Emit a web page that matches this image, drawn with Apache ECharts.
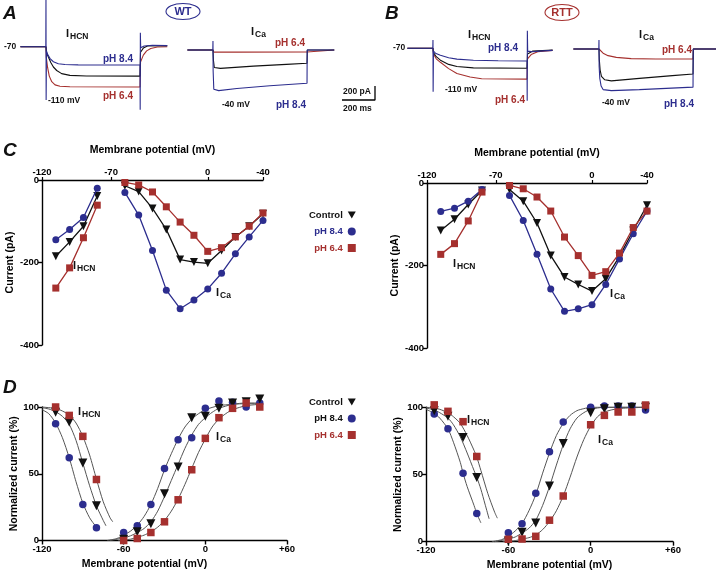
<!DOCTYPE html>
<html><head><meta charset="utf-8">
<script src="https://cdn.jsdelivr.net/npm/echarts@6.0.0/dist/echarts.min.js"></script>
<style>html,body{margin:0;padding:0;background:#fff}#c{width:716px;height:572px}</style>
</head><body><div id="c"></div>
<script>
// ---------------- DATA ----------------
// Panel C / D voltages (mV)
const hcnV = [-110, -100, -90, -80];
const caV = [-60, -50, -40, -30, -20, -10, 0, 10, 20, 30, 40];
const rttNormHcnV = [-114, -104, -93, -83];
const cTickLabels = ['-120', '-70', '0', '-40'];
const cTickValues = [-120, -70, 0, 40];

// Panel C: current (pA) WT
const wtHcnCtl = [-185, -150, -112, -39];
const wtHcn84 = [-145, -120, -91, -20];
const wtHcn64 = [-262, -213, -140, -61];
const wtCaCtl = [-14, -28, -69, -120, -193, -199, -202, -171, -138, -112, -82];
const wtCa84 = [-30, -85, -171, -267, -312, -291, -264, -226, -179, -138, -98];
const wtCa64 = [-6, -12, -29, -65, -102, -134, -173, -164, -138, -112, -80];
// Panel C: current (pA) RTT
const rttHcnCtl = [-115, -88, -52, -18];
const rttHcn84 = [-69, -61, -44, -16];
const rttHcn64 = [-173, -147, -92, -22];
const rttCaCtl = [-16, -44, -97, -176, -228, -246, -262, -232, -178, -115, -54];
const rttCa84 = [-30, -91, -173, -257, -311, -305, -295, -246, -184, -123, -68];
const rttCa64 = [-6, -14, -34, -68, -131, -176, -224, -215, -170, -108, -68];

// Panel D: normalized current (%) WT
const wtNHcnCtl = [96, 88.7, 58, 26];
const wtNHcn84 = [87.5, 62, 27, 9.5];
const wtNHcn64 = [100, 93.7, 78, 45.7];
const wtNCaCtl = [1, 6.5, 12.5, 35, 55, 92, 93, 99, 103, 104, 106];
const wtNCa84 = [6, 11, 27, 54, 75.5, 77, 99, 104.5, 103.5, 100, 103];
const wtNCa64 = [0, 1.5, 6, 14, 30.5, 53, 76.5, 92, 99, 103, 100];
// Panel D: normalized current (%) RTT
const rttNHcnCtl = [97.5, 93.3, 77.6, 47.8];
const rttNHcn84 = [95, 84, 51, 21];
const rttNHcn64 = [101.8, 97, 89.3, 63.4];
const rttNCaCtl = [0.5, 7, 14, 41.5, 73, null, 96, 99, 100, 100, 100];
const rttNCa84 = [6.7, 13.4, 36, 67, 89, null, 100, 101, 101, 101, 98];
const rttNCa64 = [1.8, 2, 4, 16, 34, null, 87, 94, 96.5, 96.5, 101.7];

// Panel D fitted curves ([mV, %])
const fitWtHcnCtl = [[-120,99.5],[-115,98.5],[-110,96.5],[-105,93],[-100,87],[-95,75],[-90,58],[-85,41],[-80,26],[-75,15],[-73,11]];
const fitWtHcn84 = [[-120,98],[-115,95],[-110,88],[-105,77],[-100,62],[-95,44],[-90,28],[-85,17],[-80,10],[-78,8]];
const fitWtHcn64 = [[-120,100],[-115,99.5],[-110,99],[-105,97],[-100,94],[-95,88],[-90,78],[-85,64],[-80,46],[-75,29],[-70,17],[-68,14]];
const fitWtCaCtl = [[-70,0],[-60,2],[-55,3.5],[-50,6],[-45,9],[-40,14],[-35,22],[-30,33],[-25,45],[-20,57],[-15,69],[-10,79],[-5,87],[0,92],[5,96],[10,99],[20,102],[30,103],[40,103]];
const fitWtCa84 = [[-72,0],[-65,1.5],[-60,4],[-55,7],[-50,11.5],[-45,18],[-40,27],[-35,39],[-30,53],[-25,65],[-20,76],[-15,85],[-10,91],[-5,95],[0,98],[10,101],[20,102],[30,102.5],[40,102.5]];
const fitWtCa64 = [[-64,0],[-55,1],[-50,2.5],[-45,4],[-40,6.5],[-35,10],[-30,15],[-25,22],[-20,31],[-15,42],[-10,54],[-5,66],[0,76],[5,85],[10,91],[15,95],[20,98],[30,101],[40,102]];
const fitRttHcnCtl = [[-120,99.5],[-114,98],[-110,96],[-104,92],[-100,87],[-95,78],[-90,66],[-85,53],[-83,48],[-80,39],[-77,28],[-74,17]];
const fitRttHcn84 = [[-120,98.5],[-114,95.5],[-110,92],[-104,84],[-100,74],[-95,59],[-93,51],[-90,41],[-85,27],[-83,21],[-80,14]];
const fitRttHcn64 = [[-120,100],[-114,99.5],[-110,98.5],[-104,96],[-100,93],[-95,88],[-90,79],[-85,68],[-83,63],[-80,53],[-75,36],[-70,22],[-68,17.5]];
const fitRttCaCtl = [[-70,0],[-60,2],[-55,3.5],[-50,6.5],[-45,10],[-40,16],[-35,27],[-30,41],[-25,57],[-20,72],[-15,84],[-10,92],[-5,96],[0,98.5],[10,100],[40,100]];
const fitRttCa84 = [[-72,0],[-65,1.5],[-60,4],[-55,8],[-50,13.5],[-45,23],[-40,35],[-35,51],[-30,66],[-25,79],[-20,88],[-15,94],[-10,97.5],[-5,99],[0,100],[10,100],[40,100]];
const fitRttCa64 = [[-64,0],[-55,0.8],[-50,2],[-45,3],[-40,5],[-35,9],[-30,15],[-25,23],[-20,34],[-15,48],[-10,63],[-5,76],[0,86],[5,93],[10,96.5],[20,99],[40,100]];

// Panels A/B: example current traces ([ms, pA] relative to holding current)
const trWtHcnCtl = [[0,0],[155,0],[158,-80],[170,-150],[185,-230],[200,-290],[220,-340],[250,-385],[300,-410],[400,-418],[725,-420],[728,-80],[745,-20],[770,10],[890,15]];
const trWtHcn84 = [[0,0],[154,0],[155,700],[156,-760],[158,-60],[165,-110],[180,-170],[200,-215],[230,-243],[270,-255],[350,-260],[725,-262],[726,-900],[727,200],[729,-15],[750,10],[800,20],[890,15]];
const trWtHcn64 = [[0,0],[155,0],[157,-150],[165,-300],[175,-420],[190,-500],[210,-545],[240,-565],[300,-572],[725,-575],[728,-220],[745,-120],[765,-60],[790,-25],[830,-5],[890,0]];
const trWtCaCtl = [[0,0],[155,0],[158,-150],[163,-250],[175,-268],[200,-262],[400,-230],[600,-205],[725,-190],[727,0],[890,0]];
const trWtCa84 = [[0,0],[154,0],[155,130],[156,-300],[160,-560],[170,-585],[190,-580],[300,-550],[500,-510],[725,-475],[726,0],[890,0]];
const trWtCa64 = [[0,0],[155,0],[160,-30],[300,-30],[725,-28],[728,0],[890,0]];
const trRttHcnCtl = [[0,0],[155,0],[158,-60],[175,-120],[200,-170],[250,-230],[300,-260],[400,-280],[725,-286],[728,-80],[760,-40],[880,-25]];
const trRttHcn84 = [[0,0],[154,0],[155,120],[156,-620],[158,-40],[170,-70],[200,-100],[250,-135],[300,-155],[400,-170],[550,-178],[725,-182],[726,-750],[727,250],[729,-40],[760,-50],[800,-40],[880,-30]];
const trRttHcn64 = [[0,0],[155,0],[158,-80],[175,-150],[200,-200],[250,-290],[300,-360],[380,-410],[450,-435],[725,-440],[728,-150],[750,-90],[790,-50],[880,-30]];
const trRttCaCtl = [[0,0],[155,0],[157,-150],[162,-300],[170,-390],[190,-440],[230,-455],[400,-420],[600,-380],[725,-357],[727,0],[890,0]];
const trRttCa84 = [[0,0],[154,0],[155,130],[156,-250],[160,-420],[168,-530],[180,-580],[230,-595],[400,-580],[725,-545],[726,0],[890,0]];
const trRttCa64 = [[0,0],[155,0],[158,-20],[180,-60],[210,-95],[260,-120],[350,-138],[500,-143],[725,-143],[727,0],[890,0]];
const scaleBar = [[0,0],[200,0],[200,200]]; // 200 ms, 200 pA

// ---------------- STYLE / LAYOUT ----------------
const BLUE = '#2c2d8e', RED = '#a5302e', BLK = '#111111', FIT = '#555555';
const FF = '"Liberation Sans", Arial, Helvetica, sans-serif';
const TRI = 'path://M0,0L10,0L5,9Z';
const PXMS = 0.165, PXPA = 0.07;

function pair(xs, ys) { return xs.map((x, i) => [x, ys[i]]).filter(p => p[1] != null); }

const grids = [
  {left: 42, top: 180, width: 221, height: 165},      // C WT
  {left: 427, top: 183, width: 220, height: 165},     // C RTT
  {left: 42, top: 407, width: 245, height: 133.5},    // D WT
  {left: 426, top: 407.3, width: 247, height: 134.4}, // D RTT
];
const traceOrigins = [[20.4, 46.7], [187.4, 50], [407.4, 48.3], [573.4, 49]];
traceOrigins.forEach(([sx, by]) => grids.push({left: sx, top: by - 200 * PXPA, width: 890 * PXMS, height: 1100 * PXPA}));
grids.push({left: 375 - 200 * PXMS, top: 100 - 200 * PXPA, width: 200 * PXMS, height: 200 * PXPA});
grids.forEach(g => { g.containLabel = false; g.outerBoundsMode = 'none'; });

const tickFont = {color: '#000', fontSize: 9.5, fontWeight: 'bold', fontFamily: FF};
const nameFont = {color: '#000', fontSize: 10.5, fontWeight: 'bold', fontFamily: FF};
const axLine = {show: true, onZero: false, lineStyle: {color: '#000', width: 1.4}};
const axTick = {show: true, length: 4, lineStyle: {color: '#000', width: 1.4}};

const xAxes = [], yAxes = [];
[0, 1].forEach(i => {
  xAxes.push({type: 'value', gridIndex: i, position: 'top', min: -120, max: 40,
    axisLine: axLine, axisTick: {show: true, length: 3, customValues: cTickValues, lineStyle: {color: '#000', width: 1.2}},
    axisLabel: {customValues: cTickValues, formatter: v => cTickLabels[cTickValues.indexOf(v)], margin: 3, ...tickFont},
    splitLine: {show: false}, name: 'Membrane potential (mV)', nameLocation: 'middle', nameGap: 24, nameTextStyle: nameFont});
  yAxes.push({type: 'value', gridIndex: i, min: -400, max: 0, interval: 200,
    axisLine: axLine, axisTick: axTick, axisLabel: {margin: 3, ...tickFont}, splitLine: {show: false},
    name: 'Current (pA)', nameLocation: 'middle', nameGap: i === 0 ? 23 : 25, nameRotate: 90, nameTextStyle: nameFont});
});
[2, 3].forEach(i => {
  xAxes.push({type: 'value', gridIndex: i, min: -120, max: 60, interval: 60,
    axisLine: axLine, axisTick: axTick, axisLabel: {margin: 4, formatter: v => v > 0 ? '+' + v : String(v), ...tickFont},
    splitLine: {show: false}, name: 'Membrane potential (mV)', nameLocation: 'middle', nameGap: 18,
    nameTextStyle: Object.assign({}, nameFont, i === 2 ? {padding: [0, 40, 0, 0]} : {})});
  yAxes.push({type: 'value', gridIndex: i, min: 0, max: 100, interval: 50,
    axisLine: axLine, axisTick: axTick, axisLabel: {margin: 3, ...tickFont}, splitLine: {show: false},
    name: 'Normalized current (%)', nameLocation: 'middle', nameGap: i === 2 ? 22 : 19, nameRotate: 90, nameTextStyle: nameFont});
});
for (let i = 4; i < 8; i++) {
  xAxes.push({type: 'value', gridIndex: i, min: 0, max: 890, show: false});
  yAxes.push({type: 'value', gridIndex: i, min: -900, max: 200, show: false});
}
xAxes.push({type: 'value', gridIndex: 8, min: 0, max: 200, show: false});
yAxes.push({type: 'value', gridIndex: 8, min: 0, max: 200, show: false});

const series = [];
const symOf = {Control: [TRI, 8, BLK], 'pH 8.4': ['circle', 7, BLUE], 'pH 6.4': ['rect', 7, RED]};
function ivLine(gi, xs, ys, name, z) {
  const [sym, size, color] = symOf[name];
  series.push({type: 'line', name, xAxisIndex: gi, yAxisIndex: gi, data: pair(xs, ys), symbol: sym, symbolSize: size,
    showSymbol: true, color, itemStyle: {color, opacity: 1}, lineStyle: {width: 1.3, color}, z, animation: false, clip: false});
}
function normPts(gi, xs, ys, name, z) {
  const [sym, size, color] = symOf[name];
  series.push({type: 'scatter', name, xAxisIndex: gi, yAxisIndex: gi, data: pair(xs, ys), symbol: sym,
    symbolSize: name === 'Control' ? size + 1 : size + 0.5, color, itemStyle: {color, opacity: 1}, z, animation: false, clip: false});
}
function fitLine(gi, data) {
  series.push({type: 'line', name: 'fit', xAxisIndex: gi, yAxisIndex: gi, data, smooth: 0.25, showSymbol: false, symbol: 'none',
    lineStyle: {width: 1, color: FIT}, z: 1, animation: false, clip: false, silent: true});
}
function trace(gi, data, color, z) {
  series.push({type: 'line', name: 'trace', xAxisIndex: gi, yAxisIndex: gi, data, showSymbol: false, symbol: 'none',
    lineStyle: {width: 1.1, color}, z, animation: false, clip: false, silent: true});
}

// Panel C
ivLine(0, hcnV, wtHcnCtl, 'Control', 2); ivLine(0, hcnV, wtHcn84, 'pH 8.4', 3); ivLine(0, hcnV, wtHcn64, 'pH 6.4', 4);
ivLine(0, caV, wtCaCtl, 'Control', 2); ivLine(0, caV, wtCa84, 'pH 8.4', 3); ivLine(0, caV, wtCa64, 'pH 6.4', 4);
ivLine(1, hcnV, rttHcnCtl, 'Control', 2); ivLine(1, hcnV, rttHcn84, 'pH 8.4', 3); ivLine(1, hcnV, rttHcn64, 'pH 6.4', 4);
ivLine(1, caV, rttCaCtl, 'Control', 2); ivLine(1, caV, rttCa84, 'pH 8.4', 3); ivLine(1, caV, rttCa64, 'pH 6.4', 4);
// Panel D
[fitWtHcnCtl, fitWtHcn84, fitWtHcn64, fitWtCaCtl, fitWtCa84, fitWtCa64].forEach(d => fitLine(2, d));
[fitRttHcnCtl, fitRttHcn84, fitRttHcn64, fitRttCaCtl, fitRttCa84, fitRttCa64].forEach(d => fitLine(3, d));
normPts(2, hcnV, wtNHcn84, 'pH 8.4', 3); normPts(2, hcnV, wtNHcnCtl, 'Control', 4); normPts(2, hcnV, wtNHcn64, 'pH 6.4', 5);
normPts(2, caV, wtNCa84, 'pH 8.4', 3); normPts(2, caV, wtNCaCtl, 'Control', 4); normPts(2, caV, wtNCa64, 'pH 6.4', 5);
normPts(3, rttNormHcnV, rttNHcn84, 'pH 8.4', 3); normPts(3, rttNormHcnV, rttNHcnCtl, 'Control', 4); normPts(3, rttNormHcnV, rttNHcn64, 'pH 6.4', 5);
normPts(3, caV, rttNCa84, 'pH 8.4', 3); normPts(3, caV, rttNCaCtl, 'Control', 4); normPts(3, caV, rttNCa64, 'pH 6.4', 5);
// Panels A/B traces
trace(4, trWtHcn64, RED, 2); trace(4, trWtHcnCtl, BLK, 3); trace(4, trWtHcn84, BLUE, 4);
trace(5, trWtCa64, RED, 2); trace(5, trWtCaCtl, BLK, 3); trace(5, trWtCa84, BLUE, 4);
trace(6, trRttHcn64, RED, 2); trace(6, trRttHcnCtl, BLK, 3); trace(6, trRttHcn84, BLUE, 4);
trace(7, trRttCa64, RED, 2); trace(7, trRttCaCtl, BLK, 3); trace(7, trRttCa84, BLUE, 4);
series.push({type: 'line', name: 'scale', xAxisIndex: 8, yAxisIndex: 8, data: scaleBar, showSymbol: false, symbol: 'none',
  lineStyle: {width: 1.3, color: '#000'}, animation: false, clip: false, silent: true});

function legendDef(top, color84) {
  return {left: 304, top, orient: 'vertical', align: 'right', itemWidth: 8, itemHeight: 8, itemGap: 6.5, selectedMode: false,
    textStyle: {fontSize: 9.5, fontWeight: 'bold', fontFamily: FF, width: 38, padding: 0},
    data: [{name: 'Control', icon: TRI, textStyle: {color: BLK}}, {name: 'pH 8.4', icon: 'circle', textStyle: {color: color84}},
           {name: 'pH 6.4', icon: 'rect', textStyle: {color: RED}}]};
}

function txt(x, y, text, color, size, extra) {
  return Object.assign({type: 'text', x, y, silent: true,
    style: Object.assign({text, fill: color, fontSize: size, fontWeight: 'bold', fontFamily: FF, align: 'left', verticalAlign: 'top'}, extra || {})});
}
function isub(x, y, sub, color) {
  return [txt(x, y, 'I', color || BLK, 11), txt(x + 4, y + 4.5, sub, color || BLK, 8.5)];
}
const graphic = [
  txt(3, 4, 'A', BLK, 19, {fontStyle: 'italic'}), txt(385, 4, 'B', BLK, 19, {fontStyle: 'italic'}),
  txt(3, 141, 'C', BLK, 19, {fontStyle: 'italic'}), txt(3, 378, 'D', BLK, 19, {fontStyle: 'italic'}),
  {type: 'ellipse', shape: {cx: 183, cy: 11.5, rx: 17, ry: 8}, style: {fill: 'none', stroke: BLUE, lineWidth: 1.1}, silent: true},
  txt(183, 11.5, 'WT', BLUE, 11, {align: 'center', verticalAlign: 'middle'}),
  {type: 'ellipse', shape: {cx: 562, cy: 12.5, rx: 17, ry: 8}, style: {fill: 'none', stroke: RED, lineWidth: 1.1}, silent: true},
  txt(562, 12.5, 'RTT', RED, 11, {align: 'center', verticalAlign: 'middle'}),
  // A texts
  txt(4, 42, '-70', BLK, 8.5), ...isub(66, 28, 'HCN'), txt(103, 54, 'pH 8.4', BLUE, 10), txt(103, 91, 'pH 6.4', RED, 10),
  txt(48, 96, '-110 mV', BLK, 8.5), ...isub(251, 26, 'Ca'), txt(275, 38, 'pH 6.4', RED, 10), txt(222, 100, '-40 mV', BLK, 8.5),
  txt(276, 100, 'pH 8.4', BLUE, 10),
  txt(343, 87, '200 pA', BLK, 8.5), txt(343, 104, '200 ms', BLK, 8.5),
  // B texts
  txt(393, 43, '-70', BLK, 8.5), ...isub(468, 29, 'HCN'), txt(488, 43, 'pH 8.4', BLUE, 10), txt(445, 85, '-110 mV', BLK, 8.5),
  txt(495, 95, 'pH 6.4', RED, 10), ...isub(639, 29, 'Ca'), txt(662, 45, 'pH 6.4', RED, 10), txt(602, 98, '-40 mV', BLK, 8.5),
  txt(664, 99, 'pH 8.4', BLUE, 10),
  // C, D curve labels
  ...isub(73, 260, 'HCN'), ...isub(216, 287, 'Ca'), ...isub(453, 258, 'HCN'), ...isub(610, 288, 'Ca'),
  ...isub(78, 406, 'HCN'), ...isub(216, 431, 'Ca'), ...isub(467, 414, 'HCN'), ...isub(598, 434, 'Ca'),
];

const chart = echarts.init(document.getElementById('c'), null, {renderer: 'canvas'});
chart.setOption({
  animation: false, backgroundColor: '#fff',
  grid: grids, xAxis: xAxes, yAxis: yAxes, series,
  legend: [legendDef(205, BLUE), legendDef(392, BLK)],
  graphic
});
</script></body></html>
